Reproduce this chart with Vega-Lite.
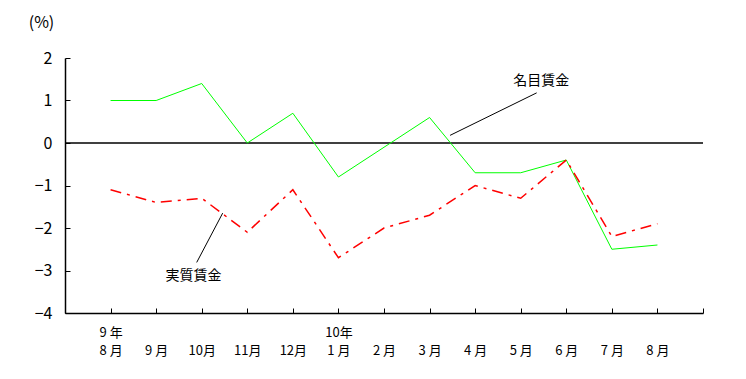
{
  "$schema": "https://vega.github.io/schema/vega-lite/v6.json",
  "width": 638,
  "height": 255,
  "autosize": "none",
  "padding": {"left": 65, "top": 58, "right": 43, "bottom": 66},
  "config": {
    "view": {"stroke": null},
    "font": "Noto Sans CJK JP",
    "axis": {"grid": false, "domainColor": "black", "tickColor": "black", "labelColor": "black", "titleColor": "black", "domainWidth": 1.5, "tickWidth": 1, "labelFontWeight": "normal"}
  },
  "datasets": {
    "wages": [
      {"i": 1, "series": "名目賃金", "value": 1.0},
      {"i": 2, "series": "名目賃金", "value": 1.0},
      {"i": 3, "series": "名目賃金", "value": 1.4},
      {"i": 4, "series": "名目賃金", "value": 0.0},
      {"i": 5, "series": "名目賃金", "value": 0.7},
      {"i": 6, "series": "名目賃金", "value": -0.8},
      {"i": 7, "series": "名目賃金", "value": -0.1},
      {"i": 8, "series": "名目賃金", "value": 0.6},
      {"i": 9, "series": "名目賃金", "value": -0.7},
      {"i": 10, "series": "名目賃金", "value": -0.7},
      {"i": 11, "series": "名目賃金", "value": -0.4},
      {"i": 12, "series": "名目賃金", "value": -2.5},
      {"i": 13, "series": "名目賃金", "value": -2.4},
      {"i": 1, "series": "実質賃金", "value": -1.1},
      {"i": 2, "series": "実質賃金", "value": -1.4},
      {"i": 3, "series": "実質賃金", "value": -1.3},
      {"i": 4, "series": "実質賃金", "value": -2.1},
      {"i": 5, "series": "実質賃金", "value": -1.1},
      {"i": 6, "series": "実質賃金", "value": -2.7},
      {"i": 7, "series": "実質賃金", "value": -2.0},
      {"i": 8, "series": "実質賃金", "value": -1.7},
      {"i": 9, "series": "実質賃金", "value": -1.0},
      {"i": 10, "series": "実質賃金", "value": -1.3},
      {"i": 11, "series": "実質賃金", "value": -0.4},
      {"i": 12, "series": "実質賃金", "value": -2.2},
      {"i": 13, "series": "実質賃金", "value": -1.9}
    ],
    "leaders": [
      {"x": 8.45, "y": 0.18, "x2": 10.35, "y2": 1.18},
      {"x": 2.89, "y": -2.81, "x2": 3.46, "y2": -1.65}
    ],
    "notes": [
      {"x": 10.45, "y": 1.47, "text": "名目賃金"},
      {"x": 2.82, "y": -3.14, "text": "実質賃金"}
    ]
  },
  "layer": [
    {
      "data": {"values": [{"zero": 0}]},
      "mark": {"type": "rule", "color": "black", "strokeWidth": 1.5},
      "encoding": {
        "y": {"field": "zero", "type": "quantitative", "scale": {"domain": [-4, 2], "nice": false, "zero": false},
          "axis": {"values": [-4, -3, -2, -1, 0, 1, 2], "tickSize": -5, "labelPadding": 18, "labelFontSize": 16, "title": "(%)", "titleAngle": 0, "titleX": -24, "titleY": -36, "titleAlign": "center", "titleBaseline": "middle", "titleFontSize": 16, "titleFontWeight": "normal"}}
      }
    },
    {
      "data": {"name": "wages"},
      "transform": [{"filter": "datum.series == '名目賃金'"}],
      "mark": {"type": "line", "color": "#00ff00", "strokeWidth": 1},
      "encoding": {
        "x": {"field": "i", "type": "quantitative", "scale": {"domain": [0, 14], "nice": false, "zero": false},
          "axis": {"values": [0, 1, 2, 3, 4, 5, 6, 7, 8, 9, 10, 11, 12, 13, 14], "tickSize": -5, "labelPadding": 18, "labelFontSize": 13, "labelLineHeight": 18, "labelBaseline": "top", "labelOverlap": false, "labelFlush": false, "title": null,
            "labelExpr": "[[''], ['9 年', '8 月'], ['', '9 月'], ['', '10月'], ['', '11月'], ['', '12月'], ['10年', '1 月'], ['', '2 月'], ['', '3 月'], ['', '4 月'], ['', '5 月'], ['', '6 月'], ['', '7 月'], ['', '8 月'], ['']][datum.value]"}},
        "y": {"field": "value", "type": "quantitative"}
      }
    },
    {
      "data": {"name": "wages"},
      "transform": [{"filter": "datum.series == '実質賃金'"}],
      "mark": {"type": "line", "color": "#ff0000", "strokeWidth": 1.5, "strokeDash": [11, 6, 3, 6]},
      "encoding": {
        "x": {"field": "i", "type": "quantitative"},
        "y": {"field": "value", "type": "quantitative"}
      }
    },
    {
      "data": {"name": "leaders"},
      "mark": {"type": "rule", "color": "black", "strokeWidth": 1},
      "encoding": {
        "x": {"field": "x", "type": "quantitative"},
        "y": {"field": "y", "type": "quantitative"},
        "x2": {"field": "x2"},
        "y2": {"field": "y2"}
      }
    },
    {
      "data": {"name": "notes"},
      "mark": {"type": "text", "fontSize": 14, "color": "black", "align": "center", "baseline": "middle"},
      "encoding": {
        "x": {"field": "x", "type": "quantitative"},
        "y": {"field": "y", "type": "quantitative"},
        "text": {"field": "text"}
      }
    }
  ]
}
